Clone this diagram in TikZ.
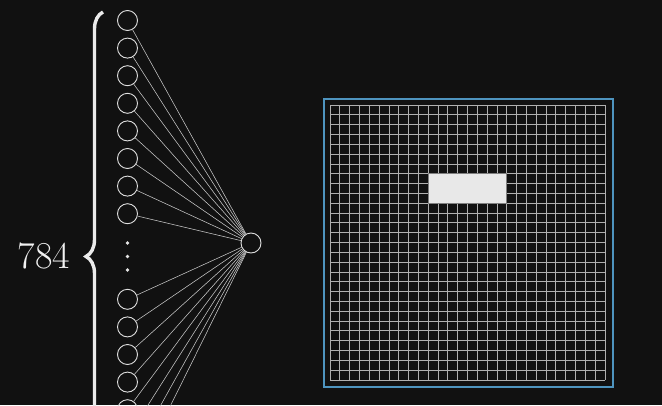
\documentclass[tikz,border=0pt]{standalone}
\usetikzlibrary{decorations.pathreplacing}
\definecolor{bg}{HTML}{111111}
\definecolor{frameblue}{HTML}{4E94BF}
\definecolor{wirecol}{HTML}{C8C8C8}
\definecolor{gridcol}{HTML}{B0B0B0}
\definecolor{pix}{HTML}{E8E8E8}
\begin{document}
\begin{tikzpicture}[x=1pt,y=-1pt,
  neuron/.style={circle,draw=white!88!black,line width=0.9pt,minimum size=20pt,inner sep=0pt},
  wire/.style={draw=wirecol,line width=0.55pt},
  gridline/.style={draw=gridcol,line width=0.8pt},
  bracestyle/.style={draw=white!92!black,line width=3.4pt,decorate,decoration={brace,amplitude=17pt}},
  dotmark/.style={fill=white!90!black}]
\fill[bg] (0,0) rectangle (662,405);
\useasboundingbox (0,0) rectangle (662,405);
\clip (0,0) rectangle (662,405);
% input neurons
\foreach \k in {1,...,8} {
  \node[neuron] (a\k) at (127.5,{20.5+27.6*(\k-1)}) {};
  \node[neuron] (b\k) at (127.5,{299.3+27.6*(\k-1)}) {};
}
\node[neuron] (o) at (251,243) {};
\foreach \k in {1,...,8} {
  \draw[wire] (o) -- (a\k);
  \draw[wire] (o) -- (b\k);
}
\fill[dotmark] (127.5,243) circle (1.9pt);
\fill[dotmark] (127.5,256.5) circle (1.9pt);
\fill[dotmark] (127.5,270) circle (1.9pt);
% brace and label
\draw[bracestyle] (103,501) -- (103,12);
\node[text=white!95!black,font=\fontsize{38}{40}\selectfont,inner sep=0pt] (lbl) at (44,256) {784};
% image grid
\def\cell{9.8214}
\foreach \i in {0,...,28} {
  \draw[gridline] ({330+\i*\cell},105) -- ({330+\i*\cell},380);
  \draw[gridline] (330,{105+\i*\cell}) -- (605,{105+\i*\cell});
}
\draw[fill=pix,draw=gray,line width=0.6pt] ({330+10*\cell},{105+7*\cell}) rectangle ({330+18*\cell},{105+10*\cell});
\draw[frameblue,line width=2pt] (323.5,98.5) rectangle (612.5,387);
\end{tikzpicture}
\end{document}
